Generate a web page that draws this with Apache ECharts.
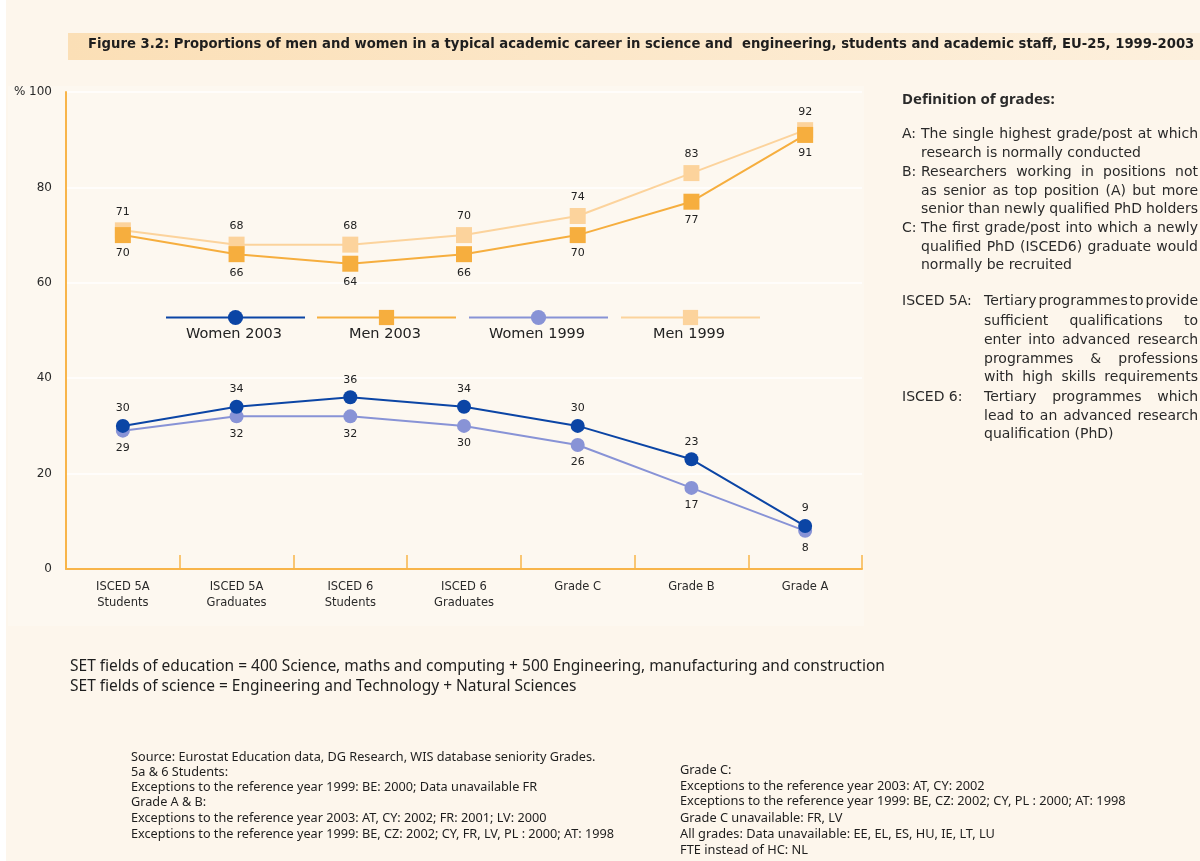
<!DOCTYPE html>
<html>
<head>
<meta charset="utf-8">
<script src="https://cdn.jsdelivr.net/npm/echarts@6/dist/echarts.min.js"></script>
<style>
html,body{margin:0;padding:0;background:#fdf6ec;}
#chart{width:1200px;height:861px;}
</style>
</head>
<body>
<div id="chart"></div>
<script>
const categories = ['ISCED 5A\nStudents','ISCED 5A\nGraduates','ISCED 6\nStudents','ISCED 6\nGraduates','Grade C','Grade B','Grade A'];
const women2003 = [30,34,36,34,30,23,9];
const men2003 = [70,66,64,66,70,77,91];
const women1999 = [29,32,32,30,26,17,8];
const men1999 = [71,68,68,70,74,83,92];
const yTicks = [0,20,40,60,80,100];

const titleText = 'Figure 3.2: Proportions of men and women in a typical academic career in science and  engineering, students and academic staff, EU-25, 1999-2003';
const defTitle = 'Definition of grades:';
// [label, text, justify]
const defLines = [
  ['A:', 'The single highest grade/post at which', true],
  ['', 'research is normally conducted', false],
  ['B:', 'Researchers working in positions not', true],
  ['', 'as senior as top position (A) but more', true],
  ['', 'senior than newly qualified PhD holders', true],
  ['C:', 'The first grade/post into which a newly', true],
  ['', 'qualified PhD (ISCED6) graduate would', true],
  ['', 'normally be recruited', false]
];
const iscedLines = [
  ['ISCED 5A:', 'Tertiary programmes to provide', true],
  ['', 'sufficient qualifications to', true],
  ['', 'enter into advanced research', true],
  ['', 'programmes & professions', true],
  ['', 'with high skills requirements', true],
  ['ISCED 6:', 'Tertiary programmes which', true],
  ['', 'lead to an advanced research', true],
  ['', 'qualification (PhD)', false]
];
const setNotes = [
  'SET fields of education = 400 Science, maths and computing + 500 Engineering, manufacturing and construction',
  'SET fields of science = Engineering and Technology + Natural Sciences'
];
const sourceLeft = [
  'Source: Eurostat Education data, DG Research, WIS database seniority Grades.',
  '5a & 6 Students:',
  'Exceptions to the reference year 1999: BE: 2000; Data unavailable FR',
  'Grade A & B:',
  'Exceptions to the reference year 2003: AT, CY: 2002; FR: 2001; LV: 2000',
  'Exceptions to the reference year 1999: BE, CZ: 2002; CY, FR, LV, PL : 2000; AT: 1998'
];
const sourceRight = [
  'Grade C:',
  'Exceptions to the reference year 2003: AT, CY: 2002',
  'Exceptions to the reference year 1999: BE, CZ: 2002; CY, PL : 2000; AT: 1998',
  'Grade C unavailable: FR, LV',
  'All grades: Data unavailable: EE, EL, ES, HU, IE, LT, LU',
  'FTE instead of HC: NL'
];
const legendNames = ['Women 2003','Men 2003','Women 1999','Men 1999'];

const C = {
  w03:'#0b45a5', w99:'#8893d6', m03:'#f6ae3e', m99:'#fcd39c', axis:'#f8b54a', text:'#2a2a2a'
};
const geo = "'DejaVu Sans', 'Noto Sans', sans-serif";
const frut = "'Noto Sans', 'Open Sans', sans-serif";
const defFont = "14px 'DejaVu Sans', sans-serif";

const measureCtx = document.createElement('canvas').getContext('2d');
const graphics = [];
function addLine(x, y, text, font, justify, right){
  const words = text.split(' ');
  if(!justify || words.length < 2){
    graphics.push({type:'text', x, y, style:{text, fill:C.text, font, verticalAlign:'middle'}});
    return;
  }
  measureCtx.font = font;
  const ws = words.map(w=>measureCtx.measureText(w).width);
  const total = ws.reduce((a,b)=>a+b,0);
  const gap = (right - x - total)/(words.length-1);
  let cx = x;
  words.forEach((w,i)=>{
    graphics.push({type:'text', x:cx, y, style:{text:w, fill:C.text, font, verticalAlign:'middle'}});
    cx += ws[i] + gap;
  });
}

// left white strip
graphics.push({type:'rect', z:-10, shape:{x:0,y:0,width:6,height:861}, style:{fill:'#ffffff'}});
// title band
graphics.push({type:'rect', z:-5, shape:{x:68,y:33,width:1132,height:27},
  style:{fill:new echarts.graphic.LinearGradient(0,0,1,0,[{offset:0,color:'#fbdfb6'},{offset:1,color:'#fdf0dd'}])}});
graphics.push({type:'text', left:88, top:37, style:{text:titleText, fill:'#1e1e1e',
  font:"bold 14.7px 'DejaVu Sans Condensed', 'Liberation Sans Narrow', 'Roboto Condensed', 'Noto Sans', sans-serif"}});
// plot panel
graphics.push({type:'rect', z:-8, shape:{x:8,y:86,width:856,height:540}, style:{fill:'#fdf8f0'}});

// legend labels
const legendCenters = [234,385,537,689];
legendNames.forEach((n,i)=>{
  graphics.push({type:'text', x:legendCenters[i], y:334, style:{text:n, fill:'#222', font:"14.5px "+geo, align:'center', verticalAlign:'middle'}});
});

// definitions
graphics.push({type:'text', x:902, y:100, style:{text:defTitle, fill:C.text, font:"bold 15px "+frut, verticalAlign:'middle'}});
const defY = [134,153,172,191,209,228,247,265];
defLines.forEach((l,i)=>{
  if(l[0]) graphics.push({type:'text', x:902, y:defY[i], style:{text:l[0], fill:C.text, font:defFont, verticalAlign:'middle'}});
  addLine(921, defY[i], l[1], defFont, l[2], 1198);
});
const iscY = [301,321,340,359,377,397,416,434];
iscedLines.forEach((l,i)=>{
  if(l[0]) graphics.push({type:'text', x:902, y:iscY[i], style:{text:l[0], fill:C.text, font:defFont, verticalAlign:'middle'}});
  addLine(984, iscY[i], l[1], defFont, l[2], 1198);
});
// SET notes
setNotes.forEach((t,i)=>{
  graphics.push({type:'text', x:70, y:667+i*20, style:{text:t, fill:'#1e1e1e', font:"15.5px "+frut, verticalAlign:'middle'}});
});
const srcLY = [757,772,787,802,818,834];
sourceLeft.forEach((t,i)=>{
  graphics.push({type:'text', x:131, y:srcLY[i], style:{text:t, fill:'#1e1e1e', font:"12.7px "+frut, verticalAlign:'middle'}});
});
const srcRY = [770,786,801,818,834,850];
sourceRight.forEach((t,i)=>{
  graphics.push({type:'text', x:680, y:srcRY[i], style:{text:t, fill:'#1e1e1e', font:"12.8px "+frut, verticalAlign:'middle'}});
});

function mkSeries(name, data, color, symbol, size, labelPos, z){
  return {
    name, type:'line', data, symbol, symbolSize:size, z,
    lineStyle:{color, width:2}, itemStyle:{color},
    label:{show:true, position:labelPos, distance:5, color:'#222', fontSize:11, fontFamily:geo},
    emphasis:{disabled:true}, animation:false
  };
}

const legendLefts = [165,316,468,620];
const legends = legendNames.map((n,i)=>({
  data:[n], left:legendLefts[i], top:308, itemWidth:139, itemHeight:19,
  formatter:()=>'', selectedMode:false, padding:0, textStyle:{fontSize:1}
}));

const chart = echarts.init(document.getElementById('chart'));
chart.setOption({
  backgroundColor:'#fdf6ec',
  animation:false,
  grid:{left:66, right:338, top:92, bottom:292},
  legend:legends,
  xAxis:{
    type:'category', data:categories, boundaryGap:true,
    axisLine:{lineStyle:{color:C.axis, width:2}},
    axisTick:{show:true, inside:true, length:14, lineStyle:{color:C.axis, width:1.5}},
    axisLabel:{color:C.text, fontSize:11.5, fontFamily:geo, margin:10, lineHeight:16, interval:0}
  },
  yAxis:{
    type:'value', min:0, max:100, interval:20,
    axisLine:{show:true, lineStyle:{color:C.axis, width:2}},
    axisTick:{show:false},
    splitLine:{show:true, lineStyle:{color:'#ffffff', width:1.5}},
    axisLabel:{color:C.text, fontSize:12, fontFamily:geo, margin:14,
      formatter:v=> v===yTicks[yTicks.length-1] ? '% ' + v : String(v)}
  },
  series:[
    mkSeries('Men 1999', men1999, C.m99, 'rect', 16, 'top', 2),
    mkSeries('Men 2003', men2003, C.m03, 'rect', 16, 'bottom', 3),
    mkSeries('Women 1999', women1999, C.w99, 'circle', 14, 'bottom', 4),
    mkSeries('Women 2003', women2003, C.w03, 'circle', 14, 'top', 5)
  ],
  graphic:graphics
});
</script>
</body>
</html>
